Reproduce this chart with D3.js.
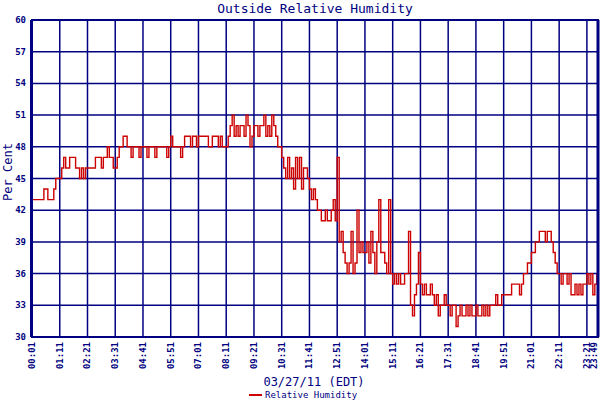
<!DOCTYPE html>
<html><head><meta charset="utf-8">
<script src="https://cdn.jsdelivr.net/npm/d3@7"></script>
<style>body{margin:0;background:#fff}text{font-family:"DejaVu Sans Mono",monospace;fill:#000080}</style>
</head><body><svg id="c" width="600" height="400"></svg>
<script>
const startMinute = 1, stepMinutes = 5;
const humidity = [
43,43,43,43,43,43,44,44,43,43, 43,44,45,45,45,46,47,46,46,47,
47,47,46,46,45,46,45,46,46,46, 46,46,47,47,47,46,47,47,48,47,
47,46,46,47,48,48,49,49,48,48, 47,48,48,48,47,48,48,48,47,48,
48,48,47,48,48,48,48,48,47,48, 49,48,48,48,48,47,48,49,49,49,
48,49,49,48,49,49,49,49,49,48, 48,49,49,49,48,49,48,48,48,49,
50,51,49,50,49,50,50,49,51,50, 48,49,50,50,49,50,50,51,49,50,
49,51,50,49,48,48,47,46,45,47, 45,46,44,47,45,47,44,46,46,45,
44,43,44,43,42,42,41,41,42,41, 41,42,43,41,47,39,40,38,37,36,
37,40,36,37,42,38,39,38,38,39, 37,40,38,36,39,43,38,38,37,36,
43,36,35,36,35,36,35,35,36,36, 40,33,32,34,35,38,35,34,35,34,
34,35,34,33,34,32,33,33,34,33, 33,32,33,33,31,32,33,32,32,33,
32,33,32,32,33,32,32,33,32,33, 32,33,33,33,34,33,33,34,34,34,
34,34,35,35,35,35,34,35,36,36, 37,37,38,38,39,39,40,40,40,39,
40,40,39,38,37,36,36,35,36,36, 35,36,34,34,35,34,35,34,35,35,
36,35,36,34,35,36];
const xTickMinutes = [1,71,141,211,281,351,421,491,561,631,701,771,841,911,981,1051,1121,1191,1261,1331,1401,1429];
const xTickLabels = ["00:01","01:11","02:21","03:31","04:41","05:51","07:01","08:11","09:21","10:31","11:41","12:51","14:01","15:11","16:21","17:31","18:41","19:51","21:01","22:11","23:21","23:49"];
const yTicks = [30,33,36,39,42,45,48,51,54,57,60];

const svg = d3.select("#c");
const L=32,R=598,T=20,B=337, navy="#000080";
const x = d3.scaleLinear().domain([1,1429]).range([L,R]);
const y = d3.scaleLinear().domain([30,60]).range([B,T]);
const data = humidity.map((v,i)=>({t:startMinute+i*stepMinutes,v}));

const g = svg.append("g");
g.selectAll(".vg").data(xTickMinutes).join("line")
 .attr("x1",d=>x(d)).attr("x2",d=>x(d)).attr("y1",T).attr("y2",B).attr("stroke",navy).attr("stroke-width",1.5);
g.selectAll(".hg").data(yTicks).join("line")
 .attr("x1",L).attr("x2",R).attr("y1",d=>y(d)).attr("y2",d=>y(d)).attr("stroke",navy).attr("stroke-width",1.5);

svg.append("path").datum(data)
 .attr("fill","none").attr("stroke","#cc0000").attr("stroke-width",1.4)
 .attr("d",d3.line().x(d=>x(d.t)).y(d=>y(d.v)).curve(d3.curveStepAfter));

svg.append("rect").attr("x",L).attr("y",T).attr("width",R-L).attr("height",B-T)
 .attr("fill","none").attr("stroke",navy).attr("stroke-width",2);
svg.append("line").attr("x1",L-0.5).attr("x2",L-0.5).attr("y1",T).attr("y2",B).attr("stroke",navy).attr("stroke-width",3);
svg.append("line").attr("x1",R).attr("x2",R).attr("y1",T).attr("y2",B).attr("stroke",navy).attr("stroke-width",3);

svg.selectAll(".yl").data(yTicks).join("text")
 .attr("x",L-6).attr("y",d=>y(d)+3).attr("text-anchor","end")
 .attr("font-size",9).attr("font-weight","bold").text(d=>d);

svg.selectAll(".xl").data(xTickMinutes).join("text")
 .attr("transform",(d)=>`translate(${Math.min(x(d)+3,597)},342) rotate(-90)`)
 .attr("text-anchor","end").attr("font-size",9).attr("font-weight","bold")
 .text((d,i)=>xTickLabels[i]);

svg.append("text").attr("x",315).attr("y",13).attr("text-anchor","middle").attr("font-size",13).text("Outside Relative Humidity");
svg.append("text").attr("transform","translate(12,172) rotate(-90)").attr("text-anchor","middle").attr("font-size",12).text("Per Cent");
svg.append("text").attr("x",314).attr("y",386).attr("text-anchor","middle").attr("font-size",12).text("03/27/11 (EDT)");
svg.append("line").attr("x1",249).attr("x2",262).attr("y1",395).attr("y2",395).attr("stroke","#cc0000").attr("stroke-width",2);
svg.append("text").attr("x",265).attr("y",398).attr("font-size",9).text("Relative Humidity");
</script></body></html>
